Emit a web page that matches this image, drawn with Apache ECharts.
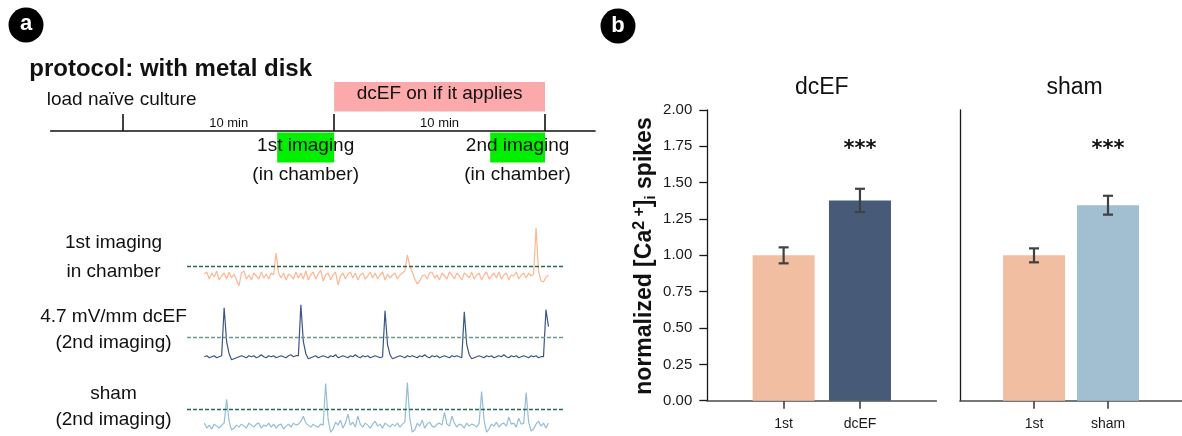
<!DOCTYPE html>
<html>
<head>
<meta charset="utf-8">
<script src="https://cdn.jsdelivr.net/npm/echarts@6/dist/echarts.min.js"></script>
<style>
  html, body { margin: 0; padding: 0; background: #fff; }
  #chart { width: 1182px; height: 436px; }
</style>
</head>
<body>
<div id="chart"></div>
<script>
const FONT = "'Liberation Sans', Arial, Helvetica, sans-serif";

// ---------- panel a: protocol timeline (minutes) ----------
const phaseTicks = [0, 10, 20];
const phaseLabels = ['10 min', '10 min'];
const stimWindow = [10, 20];
const stimLabel = 'dcEF on if it applies';
const imagingWindows = [[7.3, 10], [17.4, 20]];
const imagingLabels = ['1st imaging', '2nd imaging'];
const imagingSubLabel = '(in chamber)';

// ---------- panel a: example Ca2+ traces (dF/F, one sample every 0.5 s) ----------
const sampleStep = 0.5;
const trace1st = [
  0.02, 0.04, -0.03, 0.03, -0.01, 0.05, -0.04, 0.00, 0.03, -0.03,
  0.04, -0.02, 0.02, -0.04, -0.10, 0.03, 0.05, -0.03, 0.01, -0.04,
  0.03, 0.00, -0.03, 0.04, -0.02, 0.02, -0.03, 0.03, 0.01, 0.23,
  0.03, -0.02, 0.03, -0.04, 0.02, 0.00, -0.03, 0.04, -0.02, 0.03,
  -0.03, 0.05, -0.04, 0.01, 0.04, -0.03, 0.02, 0.06, -0.05, 0.01,
  0.03, -0.04, 0.01, 0.04, -0.09, 0.00, 0.03, -0.03, 0.02, 0.04,
  -0.02, 0.03, -0.04, 0.01, 0.03, -0.03, 0.00, 0.04, -0.02, 0.03,
  -0.03, 0.01, 0.04, -0.04, 0.02, -0.02, 0.01, 0.03, -0.03, 0.01,
  0.03, 0.05, 0.21, 0.10, 0.04, -0.03, -0.08, -0.05, 0.00, 0.01,
  -0.03, 0.03, 0.04, -0.02, 0.01, -0.04, 0.03, 0.00, -0.03, 0.04,
  0.01, -0.03, 0.03, 0.00, -0.04, 0.03, 0.01, -0.02, 0.04, -0.03,
  0.01, 0.03, -0.04, 0.01, 0.04, -0.03, 0.00, 0.03, -0.02, 0.04,
  -0.03, 0.01, 0.03, -0.04, 0.01, 0.00, 0.04, -0.03, 0.01, 0.03,
  -0.02, 0.03, 0.00, 0.02, 0.48, 0.05, -0.05, -0.06, -0.01, 0.01
];
const traceDcef = [
  0.00, 0.01, -0.01, 0.00, 0.01, -0.01, 0.00, 0.01, 0.49, 0.15,
  0.03, -0.03, -0.02, -0.01, 0.00, 0.01, 0.00, -0.01, 0.01, 0.00,
  0.01, -0.01, 0.00, 0.02, 0.00, -0.01, 0.01, 0.00, 0.01, -0.01,
  0.00, 0.01, 0.00, -0.01, 0.01, 0.02, 0.00, 0.01, 0.01, 0.52,
  0.15, 0.03, -0.02, -0.01, 0.00, 0.01, -0.01, 0.00, 0.01, 0.00,
  -0.01, 0.01, 0.00, 0.02, -0.01, 0.00, 0.01, 0.00, -0.01, 0.01,
  0.00, 0.02, 0.00, -0.01, 0.01, 0.00, 0.01, -0.01, 0.00, 0.01,
  0.00, -0.01, 0.00, 0.46, 0.12, 0.02, -0.02, -0.01, 0.00, 0.01,
  0.00, -0.01, 0.01, 0.00, 0.01, 0.00, -0.01, 0.01, 0.00, 0.02,
  0.00, -0.01, 0.01, 0.00, 0.01, -0.01, 0.00, 0.01, 0.00, -0.01,
  0.01, 0.00, 0.01, 0.00, -0.01, 0.45, 0.12, 0.02, -0.02, -0.01,
  0.00, 0.01, 0.00, -0.01, 0.01, 0.00, 0.01, -0.01, 0.00, 0.01,
  0.00, 0.02, 0.00, -0.01, 0.01, 0.00, 0.01, -0.01, 0.00, 0.01,
  0.00, -0.01, 0.01, 0.00, 0.01, -0.01, 0.00, 0.00, 0.47, 0.30
];
const traceSham = [
  0.03, -0.02, 0.01, -0.03, 0.02, 0.00, -0.02, 0.01, 0.03, 0.27,
  0.05, -0.04, -0.02, 0.01, -0.01, 0.02, 0.00, -0.02, 0.03, 0.01,
  -0.01, 0.02, 0.03, -0.02, 0.01, 0.00, 0.03, -0.01, 0.02, -0.02,
  0.01, 0.02, -0.03, 0.00, 0.02, -0.01, 0.03, 0.01, 0.02, 0.05,
  0.10, 0.03, 0.01, -0.01, 0.02, 0.00, -0.01, 0.02, 0.01, 0.43,
  0.07, -0.06, -0.03, 0.04, 0.01, 0.06, -0.02, 0.03, 0.12, 0.01,
  0.04, -0.01, 0.10, 0.02, -0.01, 0.03, 0.01, -0.02, 0.02, 0.05,
  0.00, 0.02, -0.02, 0.03, 0.01, -0.01, 0.02, 0.00, 0.03, -0.01,
  0.02, 0.04, 0.44, 0.08, -0.06, -0.04, 0.03, 0.00, 0.06, -0.02,
  0.02, 0.04, 0.00, -0.01, 0.02, 0.03, 0.01, 0.14, 0.02, 0.00,
  0.10, 0.03, -0.01, 0.02, 0.01, -0.02, 0.03, 0.00, 0.02, 0.01,
  -0.01, 0.03, 0.35, 0.06, -0.06, -0.03, 0.02, 0.00, 0.04, -0.01,
  0.02, 0.03, 0.00, 0.09, 0.02, 0.03, -0.01, 0.08, 0.02, 0.03,
  0.34, 0.04, -0.05, -0.03, 0.02, 0.05, 0.00, 0.03, -0.02, 0.03
];
const spikeThresholds = [0.10, 0.19, 0.17];
const traceLabels = [
  ['1st imaging', 'in chamber'],
  ['4.7 mV/mm dcEF', '(2nd imaging)'],
  ['sham', '(2nd imaging)']
];

// ---------- panel b: normalized spike counts ----------
const panelTitles = ['dcEF', 'sham'];
const dcefConditions = ['1st', 'dcEF'];
const dcefMeans = [1.00, 1.378];
const dcefSem = [0.055, 0.080];
const dcefSig = ['', '***'];
const shamConditions = ['1st', 'sham'];
const shamMeans = [1.00, 1.345];
const shamSem = [0.048, 0.065];
const shamSig = ['', '***'];
const yMin = 0, yMax = 2, yStep = 0.25;

// ---------- colours ----------
const C_FIRST = '#f1bea2';
const C_DCEF = '#475a78';
const C_SHAM = '#a2bfd2';
const TRACE_COLORS = ['#fdb793', '#3b5683', '#96bdd7'];
const DASH_COLORS = ['#2f6651', '#6f9a88', '#2f6651'];
const ERR_COLOR = '#404040';

const chart = echarts.init(document.getElementById('chart'), null, { renderer: 'canvas' });

// ---------- grids ----------
const protoGrid = { left: 50.7, width: 544.3, top: 82, height: 49 };
const traceGridBase = { left: 187, width: 376.3, height: 65 };
const traceTops = [221, 301.7, 371.7];
const barGrids = [
  { left: 707.3, width: 229, top: 110, height: 290.7 },
  { left: 960, width: 229, top: 110, height: 290.7 }
];

const grids = [protoGrid]
  .concat(traceTops.map(t => Object.assign({}, traceGridBase, { top: t })))
  .concat(barGrids)
  .map(g => Object.assign({ containLabel: false }, g));

// ---------- axes ----------
const xAxes = [];
const yAxes = [];

// protocol
xAxes.push({
  gridIndex: 0, type: 'value', min: -3.44, max: 22.37,
  axisLine: { show: true, onZero: false, lineStyle: { color: '#111', width: 1.6 } },
  axisTick: { show: true, customValues: phaseTicks, inside: true, length: 17, lineStyle: { color: '#111', width: 1.6 } },
  axisLabel: { show: false }, splitLine: { show: false }
});
yAxes.push({ gridIndex: 0, type: 'value', min: 0, max: 1, show: false });

// traces
const traces = [trace1st, traceDcef, traceSham];
traces.forEach((_, k) => {
  xAxes.push({ gridIndex: k + 1, type: 'value', min: -3.5, max: 72.5, show: false });
  yAxes.push({ gridIndex: k + 1, type: 'value', min: -0.1, max: 0.55, show: false });
});

// bars
const barCats = [dcefConditions, shamConditions];
barCats.forEach((cats, k) => {
  xAxes.push({
    gridIndex: k + 4, type: 'value', min: -1, max: 2,
    axisLine: { show: true, onZero: false, lineStyle: { color: '#4a4a4a', width: 1.7 } },
    axisTick: { show: true, customValues: [0, 1], length: 8, lineStyle: { color: '#4a4a4a', width: 1.7 } },
    axisLabel: {
      show: true, customValues: [0, 1], formatter: v => cats[Math.round(v)],
      margin: 16, fontSize: 14, color: '#1a1a1a', fontFamily: FONT
    },
    splitLine: { show: false }
  });
  yAxes.push({
    gridIndex: k + 4, type: 'value', min: yMin, max: yMax, interval: yStep,
    axisLine: { show: true, onZero: false, lineStyle: { color: '#1a1a1a', width: 1.3 } },
    axisTick: { show: k === 0, length: 8, lineStyle: { color: '#1a1a1a', width: 1.3 } },
    axisLabel: {
      show: k === 0, formatter: v => v.toFixed(2),
      margin: 15, fontSize: 15, color: '#1a1a1a', fontFamily: FONT
    },
    splitLine: { show: false }
  });
});

// ---------- series ----------
const series = [];

// protocol: dcEF stimulation window
series.push({
  type: 'custom', xAxisIndex: 0, yAxisIndex: 0, clip: false, silent: true,
  data: [stimWindow],
  renderItem(params, api) {
    const p0 = api.coord([api.value(0), 1]);
    const p1 = api.coord([api.value(1), 0.4]);
    return {
      type: 'group',
      children: [
        { type: 'rect', shape: { x: p0[0], y: p0[1], width: p1[0] - p0[0], height: p1[1] - p0[1] },
          style: { fill: '#fba9aa' } },
        { type: 'text', x: (p0[0] + p1[0]) / 2, y: (p0[1] + p1[1]) / 2 - 2.7,
          style: { text: stimLabel, fill: '#111', fontSize: 19, fontFamily: FONT, align: 'center', verticalAlign: 'middle' } }
      ]
    };
  }
});

// protocol: imaging windows
series.push({
  type: 'custom', xAxisIndex: 0, yAxisIndex: 0, clip: false, silent: true,
  data: imagingWindows.map((w, i) => [w[0], w[1], i]),
  renderItem(params, api) {
    const a = api.coord([api.value(0), 0]);
    const b = api.coord([api.value(1), 0]);
    const i = api.value(2);
    const cx = (a[0] + b[0]) / 2;
    return {
      type: 'group',
      children: [
        { type: 'rect', shape: { x: a[0], y: a[1] + 1.5, width: b[0] - a[0], height: 30 },
          style: { fill: '#00f000' } },
        { type: 'text', x: cx, y: a[1] + 14.9,
          style: { text: imagingLabels[i], fill: '#111', fontSize: 19, fontFamily: FONT, align: 'center', verticalAlign: 'middle' } },
        { type: 'text', x: cx, y: a[1] + 43.7,
          style: { text: imagingSubLabel, fill: '#111', fontSize: 19, fontFamily: FONT, align: 'center', verticalAlign: 'middle' } }
      ]
    };
  }
});

// protocol: phase durations
series.push({
  type: 'custom', xAxisIndex: 0, yAxisIndex: 0, clip: false, silent: true,
  data: phaseLabels.map((_, i) => [phaseTicks[i], phaseTicks[i + 1], i]),
  renderItem(params, api) {
    const a = api.coord([api.value(0), 0]);
    const b = api.coord([api.value(1), 0]);
    return {
      type: 'text', x: (a[0] + b[0]) / 2, y: a[1] - 7.2,
      style: { text: phaseLabels[api.value(2)], fill: '#111', fontSize: 13, fontFamily: FONT, align: 'center', verticalAlign: 'middle' }
    };
  }
});

// traces with spike thresholds
traces.forEach((tr, k) => {
  series.push({
    type: 'line', xAxisIndex: k + 1, yAxisIndex: k + 1,
    data: tr.map((v, i) => [i * sampleStep, v]),
    showSymbol: false, symbol: 'none', silent: true, clip: false,
    lineStyle: { color: TRACE_COLORS[k], width: 1.2 },
    markLine: {
      silent: true, symbol: 'none', label: { show: false },
      lineStyle: { type: [4, 2], color: DASH_COLORS[k], width: 1.3 },
      data: [{ yAxis: spikeThresholds[k] }]
    }
  });
});

// bars, error bars and significance marks
const barSets = [
  { means: dcefMeans, sem: dcefSem, sig: dcefSig, colors: [C_FIRST, C_DCEF] },
  { means: shamMeans, sem: shamSem, sig: shamSig, colors: [C_FIRST, C_SHAM] }
];
barSets.forEach((set, k) => {
  series.push({
    type: 'bar', xAxisIndex: k + 4, yAxisIndex: k + 4, barWidth: 62, silent: true,
    data: set.means.map((m, i) => ({ value: [i, m], itemStyle: { color: set.colors[i] } }))
  });
  series.push({
    type: 'custom', xAxisIndex: k + 4, yAxisIndex: k + 4, silent: true, z: 5,
    data: set.means.map((m, i) => [i, m - set.sem[i], m + set.sem[i]]),
    renderItem(params, api) {
      const lo = api.coord([api.value(0), api.value(1)]);
      const hi = api.coord([api.value(0), api.value(2)]);
      const hw = 5;
      const st = { stroke: ERR_COLOR, lineWidth: 2.2 };
      return {
        type: 'group',
        children: [
          { type: 'line', shape: { x1: lo[0], y1: lo[1], x2: hi[0], y2: hi[1] }, style: st },
          { type: 'line', shape: { x1: lo[0] - hw, y1: lo[1], x2: lo[0] + hw, y2: lo[1] }, style: st },
          { type: 'line', shape: { x1: hi[0] - hw, y1: hi[1], x2: hi[0] + hw, y2: hi[1] }, style: st }
        ]
      };
    }
  });
  series.push({
    type: 'custom', xAxisIndex: k + 4, yAxisIndex: k + 4, silent: true, clip: false,
    data: set.sig.map((s, i) => [i, i]),
    renderItem(params, api) {
      const i = api.value(1);
      const p = api.coord([api.value(0), 1.725]);
      return {
        type: 'text', x: p[0], y: p[1],
        style: { text: set.sig[i], fill: '#111', fontSize: 21, fontWeight: 'bold', fontFamily: "'DejaVu Sans', sans-serif", align: 'center', verticalAlign: 'middle' }
      };
    }
  });
});

// ---------- static text and panel markers ----------
const txt = (text, x, y, size, opts) => Object.assign({
  type: 'text', x, y, silent: true,
  style: Object.assign({ text, fill: '#111', fontSize: size, fontFamily: FONT, align: 'center', verticalAlign: 'middle' }, opts || {})
});

const graphic = [
  { type: 'circle', shape: { cx: 26, cy: 25, r: 17.5 }, style: { fill: '#000' }, silent: true },
  txt('a', 26, 24, 22, { fill: '#fff', fontWeight: 'bold' }),
  { type: 'circle', shape: { cx: 618, cy: 26, r: 17.5 }, style: { fill: '#000' }, silent: true },
  txt('b', 618, 26, 22, { fill: '#fff', fontWeight: 'bold' }),
  txt('protocol: with metal disk', 29.3, 68.9, 24, { align: 'left', fontWeight: 'bold' }),
  txt('load na\u00efve culture', 46.7, 99.4, 19, { align: 'left' }),
  txt(traceLabels[0][0], 113.5, 242.9, 19),
  txt(traceLabels[0][1], 113.5, 271.7, 19),
  txt(traceLabels[1][0], 113.5, 316.7, 19),
  txt(traceLabels[1][1], 113.5, 342.4, 19),
  txt(traceLabels[2][0], 113.5, 393.4, 19),
  txt(traceLabels[2][1], 113.5, 420.1, 19),
  txt(panelTitles[0], 821.8, 88, 23),
  txt(panelTitles[1], 1074.5, 88, 23),
  {
    type: 'text', x: 645, y: 256, rotation: Math.PI / 2, silent: true,
    style: {
      text: '{b|normalized [Ca}{sup|2 +}{b|]}{sub|i}{b| spikes}',
      align: 'center', verticalAlign: 'middle', fill: '#111',
      rich: {
        b: { fontSize: 23, fontWeight: 'bold', fontFamily: FONT, lineHeight: 27, verticalAlign: 'middle' },
        sup: { fontSize: 16, fontWeight: 'bold', fontFamily: FONT, lineHeight: 16, verticalAlign: 'top' },
        sub: { fontSize: 15, fontWeight: 'bold', fontFamily: FONT, lineHeight: 15, verticalAlign: 'bottom' }
      }
    }
  }
];

chart.setOption({
  animation: false,
  backgroundColor: '#ffffff',
  textStyle: { fontFamily: FONT },
  grid: grids,
  xAxis: xAxes,
  yAxis: yAxes,
  series: series,
  graphic: graphic
});
</script>
</body>
</html>
